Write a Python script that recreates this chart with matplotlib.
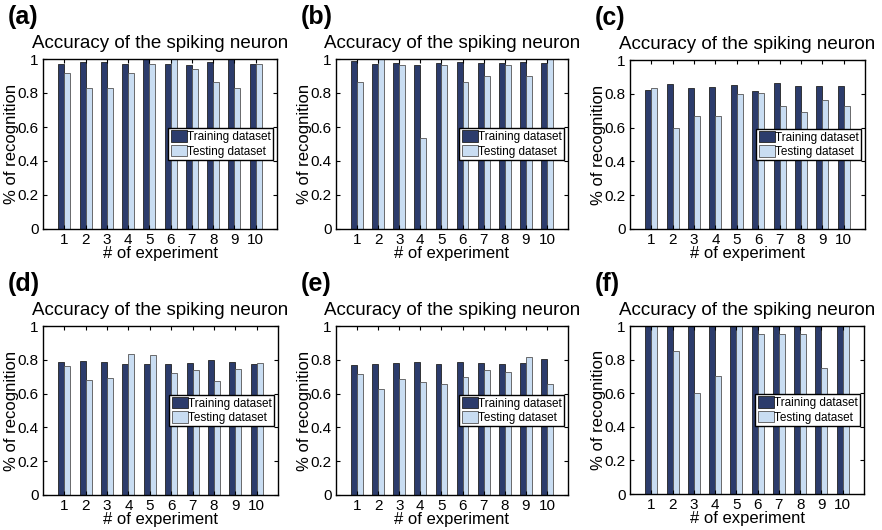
import numpy as np
import matplotlib
matplotlib.use("Agg")
import matplotlib.pyplot as plt
from matplotlib.ticker import FuncFormatter

plt.rcParams['font.family'] = ['Liberation Sans', 'DejaVu Sans']

experiments = list(range(1, 11))
panel_labels = ["(a)", "(b)", "(c)", "(d)", "(e)", "(f)"]
series_names = ["Training dataset", "Testing dataset"]

train_a = [0.97, 0.98, 0.98, 0.97, 1.00, 0.97, 0.965, 0.98, 1.00, 0.97]
test_a = [0.916, 0.828, 0.83, 0.916, 0.97, 1.00, 0.94, 0.863, 0.828, 0.97]

train_b = [0.99, 0.97, 0.975, 0.965, 0.975, 0.98, 0.975, 0.975, 0.98, 0.975]
test_b = [0.867, 1.00, 0.965, 0.534, 0.965, 0.867, 0.90, 0.965, 0.90, 1.00]

train_c = [0.825, 0.86, 0.833, 0.841, 0.853, 0.815, 0.862, 0.844, 0.844, 0.844]
test_c = [0.833, 0.60, 0.667, 0.667, 0.80, 0.806, 0.727, 0.69, 0.762, 0.727]

train_d = [0.785, 0.793, 0.785, 0.773, 0.777, 0.777, 0.781, 0.797, 0.785, 0.775]
test_d = [0.765, 0.68, 0.694, 0.832, 0.826, 0.72, 0.738, 0.672, 0.744, 0.783]

train_e = [0.771, 0.777, 0.781, 0.785, 0.777, 0.785, 0.781, 0.777, 0.781, 0.803]
test_e = [0.714, 0.625, 0.684, 0.671, 0.655, 0.70, 0.742, 0.728, 0.816, 0.655]

train_f = [1.00, 1.00, 1.00, 1.00, 1.00, 1.00, 1.00, 1.00, 1.00, 1.00]
test_f = [1.00, 0.85, 0.60, 0.70, 1.00, 0.95, 0.95, 0.95, 0.75, 1.00]

panels = [(train_a, test_a), (train_b, test_b), (train_c, test_c),
          (train_d, test_d), (train_e, test_e), (train_f, test_f)]

W, H = 882, 530
fig = plt.figure(figsize=(W / 100, H / 100), dpi=100)

# axes boxes in pixels: left, right, top, bottom
boxes = [(43, 277, 59, 229), (336, 568, 59, 229), (630, 865, 60, 229),
         (43, 278, 326, 495), (336, 568, 326, 495), (630, 864, 326, 494)]

train_color = "#2c3c6c"
test_color = "#c9ddf2"
bar_w = 0.28

x = np.array(experiments)
for label, (train, test), (l, r, t, b) in zip(panel_labels, panels, boxes):
    ax = fig.add_axes([l / W, 1 - b / H, (r - l) / W, (b - t) / H])
    ax.bar(x - bar_w / 2, train, width=bar_w, color=train_color,
           edgecolor="#222222", linewidth=0.6, label=series_names[0])
    ax.bar(x + bar_w / 2, test, width=bar_w, color=test_color,
           edgecolor="#555555", linewidth=0.6, label=series_names[1])
    ax.set_xlim(0, 11)
    ax.set_ylim(0, 1)
    ax.set_xticks(experiments)
    ax.set_yticks([0, 0.2, 0.4, 0.6, 0.8, 1.0])
    ax.yaxis.set_major_formatter(FuncFormatter(lambda v, p: f"{v:g}"))
    ax.tick_params(direction="in", top=True, right=True, length=3,
                   width=0.8, labelsize=11, pad=3)
    for s in ax.spines.values():
        s.set_linewidth(1.0)
    ax.set_title("Accuracy of the spiking neuron", fontsize=13.5, pad=8)
    ax.set_xlabel("# of experiment", fontsize=12, labelpad=-0.5)
    ax.set_ylabel("% of recognition", fontsize=12, labelpad=-1)
    leg = ax.legend(loc="center right", fontsize=8.5, frameon=True,
                    fancybox=False, edgecolor="black", framealpha=1,
                    borderpad=0.2, handlelength=1.4, handleheight=1.1,
                    handletextpad=0.0, labelspacing=0.15,
                    borderaxespad=0.3)
    leg.get_frame().set_linewidth(1.0)
    fig.text((l - 35) / W, 1 - (t - 42) / H, label, fontsize=18,
             fontweight="bold", ha="left", va="center")

fig.savefig("out.png", dpi=100)
